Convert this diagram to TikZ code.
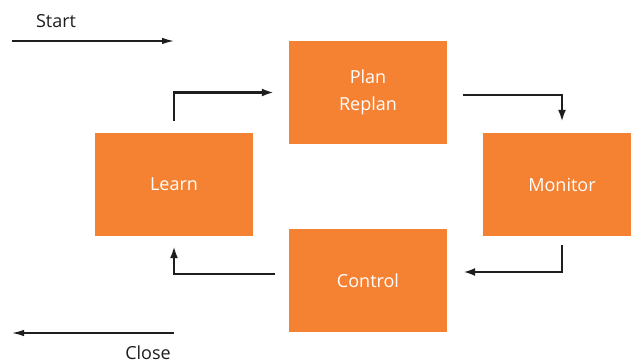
\documentclass[tikz,border=0pt]{standalone}
\usepackage{fontspec}
\setmainfont{Open Sans}
\usetikzlibrary{arrows.meta}
\definecolor{boxorange}{HTML}{F58233}
\definecolor{ink}{HTML}{1E1E1E}
\tikzset{
  stepbox/.style={fill=boxorange, draw=none, minimum width=158pt, minimum height=103pt,
    inner sep=0pt, text=white, font=\fontsize{18}{27}\selectfont, align=center},
  looparrow/.style={draw=ink, line width=2.3pt, -{Latex[length=12pt,width=8pt]}},
  sidearrow/.style={draw=ink, line width=1.4pt, -{Latex[length=12pt,width=6.5pt]}},
  lbl/.style={text=ink, font=\fontsize{18}{22}\selectfont, inner sep=0pt}
}
\begin{document}
\begin{tikzpicture}[x=1pt,y=-1pt]
\clip (0,0) rectangle (631,363);
\fill[white] (0,0) rectangle (631,363);
\node[stepbox] (plan) at (368,92.5) {Plan\\Replan};
\node[stepbox] (learn) at (174,184.5) {Learn};
\node[stepbox] (monitor) at (562,184.5) {Monitor};
\node[stepbox] (control) at (368,280.5) {Control};
\coordinate (s1) at (12,41);
\coordinate (s2) at (174,41);
\coordinate (c1) at (174,333);
\coordinate (c2) at (12,333);
\node[lbl] (start) at (56,21) {Start};
\node[lbl] (close) at (148,353) {Close};
\draw[sidearrow] (s1) -- (s2);
\draw[sidearrow] (c1) -- (c2);
\draw[looparrow, shorten <=12pt, shorten >=15pt] (learn.north) |- (plan.west);
\draw[looparrow, shorten <=16pt, shorten >=11pt] ([yshift=-2.5pt]plan.east) -| (monitor.north);
\draw[looparrow, shorten <=9pt, shorten >=16pt] (monitor.south) |- ([yshift=8.5pt]control.east);
\draw[looparrow, shorten <=14pt, shorten >=10pt] ([yshift=6.5pt]control.west) -| (learn.south);
\end{tikzpicture}
\end{document}
